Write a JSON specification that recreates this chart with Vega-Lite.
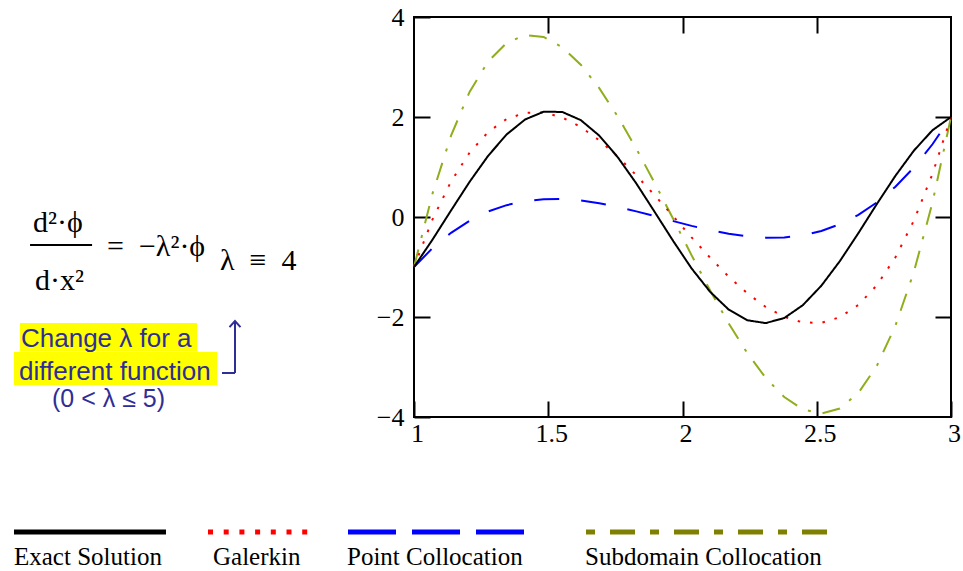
{
  "$schema": "https://vega.github.io/schema/vega-lite/v6.json",
  "width": 537,
  "height": 400,
  "autosize": {"type": "none"},
  "padding": {"left": 414, "top": 17, "right": 12, "bottom": 154},
  "background": "white",
  "config": {
    "view": {"stroke": "#000", "strokeWidth": 2},
    "axis": {"domain": false, "grid": false, "tickColor": "#000", "tickWidth": 2, "labelColor": "#000", "labelFont": "Liberation Serif", "labelFontSize": 26, "labelFlush": false, "labelOverlap": false, "title": null}
  },
  "resolve": {"axis": {"x": "independent", "y": "independent"}},
  "layer": [
    {
      "data": {"values": [
        {"x": 1, "exact": -1, "galerkin": -1, "point": -1, "subdomain": -1},
        {"x": 1.069, "exact": -0.452, "galerkin": -0.047, "point": -0.623, "subdomain": 0.469},
        {"x": 1.138, "exact": 0.131, "galerkin": 0.710, "point": -0.316, "subdomain": 1.628},
        {"x": 1.207, "exact": 0.703, "galerkin": 1.287, "point": -0.074, "subdomain": 2.501},
        {"x": 1.276, "exact": 1.223, "galerkin": 1.699, "point": 0.109, "subdomain": 3.112},
        {"x": 1.345, "exact": 1.651, "galerkin": 1.960, "point": 0.237, "subdomain": 3.483},
        {"x": 1.414, "exact": 1.951, "galerkin": 2.085, "point": 0.318, "subdomain": 3.638},
        {"x": 1.483, "exact": 2.106, "galerkin": 2.091, "point": 0.357, "subdomain": 3.602},
        {"x": 1.552, "exact": 2.101, "galerkin": 1.991, "point": 0.358, "subdomain": 3.397},
        {"x": 1.621, "exact": 1.938, "galerkin": 1.800, "point": 0.329, "subdomain": 3.047},
        {"x": 1.690, "exact": 1.628, "galerkin": 1.533, "point": 0.275, "subdomain": 2.577},
        {"x": 1.759, "exact": 1.195, "galerkin": 1.206, "point": 0.201, "subdomain": 2.008},
        {"x": 1.828, "exact": 0.671, "galerkin": 0.834, "point": 0.113, "subdomain": 1.366},
        {"x": 1.897, "exact": 0.096, "galerkin": 0.430, "point": 0.017, "subdomain": 0.674},
        {"x": 1.966, "exact": -0.485, "galerkin": 0.011, "point": -0.082, "subdomain": -0.046},
        {"x": 2.034, "exact": -1.030, "galerkin": -0.409, "point": -0.177, "subdomain": -0.768},
        {"x": 2.103, "exact": -1.497, "galerkin": -0.815, "point": -0.264, "subdomain": -1.470},
        {"x": 2.172, "exact": -1.852, "galerkin": -1.192, "point": -0.336, "subdomain": -2.128},
        {"x": 2.241, "exact": -2.065, "galerkin": -1.525, "point": -0.388, "subdomain": -2.719},
        {"x": 2.310, "exact": -2.122, "galerkin": -1.799, "point": -0.413, "subdomain": -3.218},
        {"x": 2.379, "exact": -2.020, "galerkin": -1.998, "point": -0.408, "subdomain": -3.602},
        {"x": 2.448, "exact": -1.764, "galerkin": -2.109, "point": -0.365, "subdomain": -3.848},
        {"x": 2.517, "exact": -1.375, "galerkin": -2.116, "point": -0.279, "subdomain": -3.932},
        {"x": 2.586, "exact": -0.883, "galerkin": -2.004, "point": -0.145, "subdomain": -3.830},
        {"x": 2.655, "exact": -0.323, "galerkin": -1.759, "point": 0.044, "subdomain": -3.519},
        {"x": 2.724, "exact": 0.261, "galerkin": -1.364, "point": 0.292, "subdomain": -2.975},
        {"x": 2.793, "exact": 0.824, "galerkin": -0.806, "point": 0.607, "subdomain": -2.175},
        {"x": 2.862, "exact": 1.329, "galerkin": -0.069, "point": 0.992, "subdomain": -1.095},
        {"x": 2.931, "exact": 1.735, "galerkin": 0.861, "point": 1.455, "subdomain": 0.289},
        {"x": 3, "exact": 2, "galerkin": 2, "point": 2, "subdomain": 2}
      ]},
      "transform": [{"fold": ["subdomain", "point", "galerkin", "exact"], "as": ["series", "value"]}],
      "mark": {"type": "line", "strokeWidth": 2, "strokeCap": "butt"},
      "encoding": {
        "x": {"field": "x", "type": "quantitative", "scale": {"domain": [1, 3], "nice": false, "zero": false},
              "axis": {"orient": "bottom", "values": [1, 1.5, 2, 2.5, 3], "format": "~g", "tickSize": -16, "labelPadding": 19, "labelOffset": 3}},
        "y": {"field": "value", "type": "quantitative", "scale": {"domain": [-4, 4], "nice": false, "zero": false},
              "axis": {"orient": "left", "values": [-4, -2, 0, 2, 4], "format": "~g", "tickSize": -16, "labelPadding": 26}},
        "color": {"field": "series", "type": "nominal", "legend": null,
                  "scale": {"domain": ["exact", "galerkin", "point", "subdomain"], "range": ["#000000", "#ff0000", "#0000ff", "#8fae1c"]}},
        "strokeDash": {"field": "series", "type": "nominal", "legend": null,
                  "scale": {"domain": ["exact", "galerkin", "point", "subdomain"], "range": [[1, 0], [2.5, 10], [25, 22], [18, 12, 3, 12]]}}
      }
    },
    {
      "data": {"values": [{}]},
      "mark": {"type": "rule", "strokeWidth": 2, "color": "#000"},
      "encoding": {
        "x": {"datum": -0.43, "type": "quantitative", "axis": {"orient": "top", "values": [1.5, 2, 2.5], "labels": false, "tickSize": -16}},
        "x2": {"datum": -0.199},
        "y": {"datum": -0.56, "type": "quantitative", "axis": {"orient": "right", "values": [-2, 0, 2], "labels": false, "tickSize": -16}}
      }
    },
    {
      "data": {"values": [{}]},
      "layer": [
        {"mark": {"type": "text", "align": "left", "baseline": "alphabetic", "font": "Liberation Serif", "fontSize": 30, "color": "#000"},
         "encoding": {"x": {"datum": -0.419, "type": "quantitative", "axis": null}, "y": {"datum": -0.3, "type": "quantitative", "axis": null}, "text": {"value": "d²·ϕ"}}},
        {"mark": {"type": "text", "align": "left", "baseline": "alphabetic", "font": "Liberation Serif", "fontSize": 30, "color": "#000"},
         "encoding": {"x": {"datum": -0.4115, "type": "quantitative", "axis": null}, "y": {"datum": -1.46, "type": "quantitative", "axis": null}, "text": {"value": "d·x²"}}},
        {"mark": {"type": "text", "align": "left", "baseline": "alphabetic", "font": "Liberation Serif", "fontSize": 30, "color": "#000"},
         "encoding": {"x": {"datum": -0.1434, "type": "quantitative", "axis": null}, "y": {"datum": -0.78, "type": "quantitative", "axis": null}, "text": {"value": "=\u2002−λ²·ϕ"}}},
        {"mark": {"type": "text", "align": "left", "baseline": "alphabetic", "font": "Liberation Serif", "fontSize": 30, "color": "#000"},
         "encoding": {"x": {"datum": 0.2775, "type": "quantitative", "axis": null}, "y": {"datum": -1.06, "type": "quantitative", "axis": null}, "text": {"value": "λ\u2002≡\u20024"}}},
        {"mark": {"type": "rect", "color": "#ffff00"},
         "encoding": {"x": {"datum": -0.4674, "type": "quantitative", "axis": null}, "x2": {"datum": 0.1918}, "y": {"datum": -2.12, "type": "quantitative", "axis": null}, "y2": {"datum": -2.68}}},
        {"mark": {"type": "rect", "color": "#ffff00"},
         "encoding": {"x": {"datum": -0.4898, "type": "quantitative", "axis": null}, "x2": {"datum": 0.2663}, "y": {"datum": -2.70, "type": "quantitative", "axis": null}, "y2": {"datum": -3.36}}},
        {"mark": {"type": "text", "align": "left", "baseline": "alphabetic", "font": "Liberation Sans", "fontSize": 26, "color": "#2e2e96"},
         "encoding": {"x": {"datum": -0.4637, "type": "quantitative", "axis": null}, "y": {"datum": -2.6, "type": "quantitative", "axis": null}, "text": {"value": "Change λ for a"}}},
        {"mark": {"type": "text", "align": "left", "baseline": "alphabetic", "font": "Liberation Sans", "fontSize": 26, "color": "#2e2e96"},
         "encoding": {"x": {"datum": -0.4711, "type": "quantitative", "axis": null}, "y": {"datum": -3.26, "type": "quantitative", "axis": null}, "text": {"value": "different function"}}},
        {"mark": {"type": "text", "align": "left", "baseline": "alphabetic", "font": "Liberation Sans", "fontSize": 25, "color": "#2e2e96"},
         "encoding": {"x": {"datum": -0.3482, "type": "quantitative", "axis": null}, "y": {"datum": -3.8, "type": "quantitative", "axis": null}, "text": {"value": "(0 < λ ≤ 5)"}}},
        {"mark": {"type": "rule", "strokeWidth": 2, "color": "#2e2e96"},
         "encoding": {"x": {"datum": 0.3333, "type": "quantitative", "axis": null}, "y": {"datum": -2.08, "type": "quantitative", "axis": null}, "y2": {"datum": -3.12}}},
        {"mark": {"type": "rule", "strokeWidth": 2, "color": "#2e2e96"},
         "encoding": {"x": {"datum": 0.2849, "type": "quantitative", "axis": null}, "x2": {"datum": 0.3333}, "y": {"datum": -3.12, "type": "quantitative", "axis": null}}},
        {"mark": {"type": "point", "shape": "M-1,1.1L0,0L1,1.1", "size": 121, "filled": false, "strokeWidth": 2, "color": "#2e2e96", "opacity": 1},
         "encoding": {"x": {"datum": 0.3333, "type": "quantitative", "axis": null}, "y": {"datum": -2.08, "type": "quantitative", "axis": null}}},
        {"mark": {"type": "rule", "strokeWidth": 5, "color": "#000000", "strokeCap": "butt"},
         "encoding": {"x": {"datum": -0.4898, "type": "quantitative", "axis": null}, "x2": {"datum": 0.0763}, "y": {"datum": -6.3, "type": "quantitative", "axis": null}}},
        {"mark": {"type": "rule", "strokeWidth": 5, "color": "#ff0000", "strokeCap": "butt", "strokeDash": [5, 10.7]},
         "encoding": {"x": {"datum": 0.2328, "type": "quantitative", "axis": null}, "x2": {"datum": 0.6164}, "y": {"datum": -6.3, "type": "quantitative", "axis": null}}},
        {"mark": {"type": "rule", "strokeWidth": 5, "color": "#0000ff", "strokeCap": "butt", "strokeDash": [48, 16]},
         "encoding": {"x": {"datum": 0.7542, "type": "quantitative", "axis": null}, "x2": {"datum": 1.4097}, "y": {"datum": -6.3, "type": "quantitative", "axis": null}}},
        {"mark": {"type": "rule", "strokeWidth": 5, "color": "#808000", "strokeCap": "butt", "strokeDash": [9, 15, 25, 15]},
         "encoding": {"x": {"datum": 1.6406, "type": "quantitative", "axis": null}, "x2": {"datum": 2.5456}, "y": {"datum": -6.3, "type": "quantitative", "axis": null}}},
        {"mark": {"type": "text", "align": "left", "baseline": "alphabetic", "font": "Liberation Serif", "fontSize": 25, "color": "#000"},
         "encoding": {"x": {"datum": -0.4898, "type": "quantitative", "axis": null}, "y": {"datum": -6.96, "type": "quantitative", "axis": null}, "text": {"value": "Exact Solution"}}},
        {"mark": {"type": "text", "align": "left", "baseline": "alphabetic", "font": "Liberation Serif", "fontSize": 25, "color": "#000"},
         "encoding": {"x": {"datum": 0.2514, "type": "quantitative", "axis": null}, "y": {"datum": -6.96, "type": "quantitative", "axis": null}, "text": {"value": "Galerkin"}}},
        {"mark": {"type": "text", "align": "left", "baseline": "alphabetic", "font": "Liberation Serif", "fontSize": 25, "color": "#000"},
         "encoding": {"x": {"datum": 0.7505, "type": "quantitative", "axis": null}, "y": {"datum": -6.96, "type": "quantitative", "axis": null}, "text": {"value": "Point Collocation"}}},
        {"mark": {"type": "text", "align": "left", "baseline": "alphabetic", "font": "Liberation Serif", "fontSize": 25, "color": "#000"},
         "encoding": {"x": {"datum": 1.6369, "type": "quantitative", "axis": null}, "y": {"datum": -6.96, "type": "quantitative", "axis": null}, "text": {"value": "Subdomain Collocation"}}}
      ]
    }
  ]
}
